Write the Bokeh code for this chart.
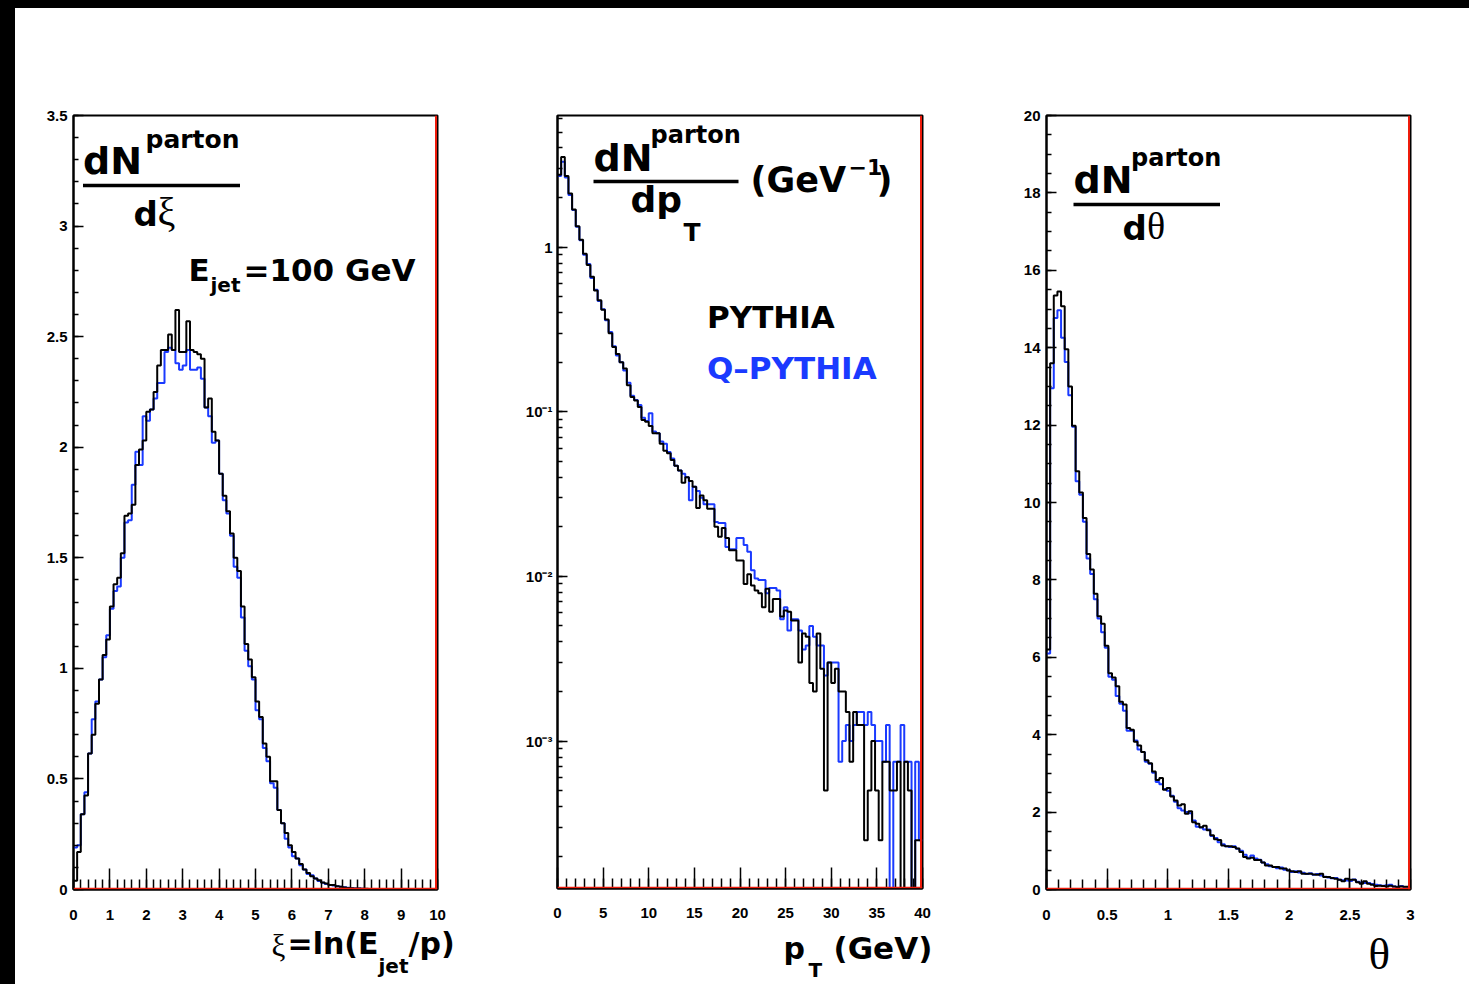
import math
from bokeh.plotting import figure
from bokeh.models import (Range1d, FixedTicker, CustomJSTickFormatter, Label,
                          BoxAnnotation, Span, Spacer)
from bokeh.layouts import row, column
from bokeh.embed import file_html
from bokeh.resources import INLINE

# ---------------------------------------------------------------- data
N_BINS = 100

# xi = ln(E_jet/p), 0..10, 100 bins
XI_RANGE = (0.0, 10.0)
XI_PYTHIA = [
    0.04, 0.17, 0.34, 0.425, 0.615, 0.70, 0.84, 0.95, 1.06, 1.13,
    1.28, 1.38, 1.41, 1.52, 1.69, 1.70, 1.74, 1.92, 1.99, 2.03,
    2.16, 2.17, 2.25, 2.37, 2.44, 2.44, 2.51, 2.44, 2.62, 2.43,
    2.43, 2.57, 2.44, 2.43, 2.42, 2.40, 2.18, 2.22, 2.07, 2.03,
    1.88, 1.78, 1.71, 1.61, 1.50, 1.44, 1.28, 1.11, 1.04, 0.96,
    0.85, 0.78, 0.66, 0.60, 0.49, 0.49, 0.36, 0.30, 0.255, 0.20,
    0.17, 0.14, 0.115, 0.09, 0.075, 0.06, 0.05, 0.042, 0.032, 0.027,
    0.02, 0.02, 0.015, 0.012, 0.009, 0.007, 0.006, 0.005, 0.004, 0.003,
    0.003, 0.002, 0.002, 0.001, 0.001, 0.001, 0.0005, 0.0005, 0.0005, 0.0,
    0.0, 0.0, 0.0, 0.0, 0.0, 0.0, 0.0, 0.0, 0.0, 0.0,
]
XI_QPYTHIA = [
    0.19, 0.20, 0.34, 0.44, 0.615, 0.77, 0.85, 0.95, 1.05, 1.15,
    1.27, 1.35, 1.37, 1.50, 1.66, 1.67, 1.83, 1.98, 1.92, 2.14,
    2.12, 2.17, 2.22, 2.29, 2.29, 2.43, 2.45, 2.44, 2.38, 2.35,
    2.37, 2.44, 2.35, 2.35, 2.36, 2.31, 2.18, 2.14, 2.02, 2.03,
    1.88, 1.76, 1.70, 1.60, 1.46, 1.41, 1.23, 1.08, 1.01, 0.95,
    0.81, 0.77, 0.64, 0.58, 0.48, 0.46, 0.36, 0.30, 0.23, 0.19,
    0.15, 0.14, 0.11, 0.09, 0.07, 0.065, 0.05, 0.038, 0.03, 0.025,
    0.02, 0.018, 0.015, 0.013, 0.01, 0.008, 0.006, 0.005, 0.004, 0.003,
    0.002, 0.002, 0.001, 0.001, 0.001, 0.0005, 0.0005, 0.0005, 0.0, 0.0,
    0.0, 0.0, 0.0, 0.0, 0.0, 0.0, 0.0, 0.0, 0.0, 0.0,
]

# pT (GeV), 0..40, 100 bins, log scale
PT_RANGE = (0.0, 40.0)
PT_YRANGE = (1.272e-4, 6.30)
PT_PYTHIA = [
    2.75, 3.52, 2.70, 2.12, 1.69, 1.34, 1.11, 0.91, 0.78, 0.66,
    0.546, 0.475, 0.417, 0.363, 0.30, 0.247, 0.224, 0.20, 0.183, 0.145,
    0.123, 0.117, 0.107, 0.089, 0.087, 0.082, 0.074, 0.074, 0.064, 0.058,
    0.056, 0.051, 0.047, 0.044, 0.037, 0.040, 0.038, 0.035, 0.026, 0.031,
    0.029, 0.0258, 0.0258, 0.020, 0.0174, 0.0197, 0.0171, 0.0144, 0.0144, 0.0125,
    0.0125, 0.0090, 0.0103, 0.0088, 0.0082, 0.0079, 0.0065, 0.0084, 0.0061, 0.0073,
    0.0073, 0.0057, 0.0062, 0.0061, 0.0054, 0.0054, 0.0030, 0.0045, 0.0043, 0.00225,
    0.0020, 0.0045, 0.00275, 0.0005, 0.0030, 0.00225, 0.00275, 0.0020, 0.0020, 0.0015,
    0.00075, 0.0015, 0.00125, 0.00125, 0.00025, 0.0005, 0.001, 0.0005, 0.00025, 0.00075,
    0.00075, 0.0005, 0.0005, 0.00075, 0.0, 0.00075, 0.0005, 0.0, 0.00025, 0.00025,
]
PT_QPYTHIA = [
    2.70, 3.30, 2.65, 2.07, 1.68, 1.33, 1.10, 0.90, 0.79, 0.65,
    0.55, 0.47, 0.42, 0.36, 0.305, 0.25, 0.22, 0.20, 0.178, 0.15,
    0.125, 0.118, 0.110, 0.092, 0.088, 0.098, 0.076, 0.074, 0.066, 0.064,
    0.057, 0.052, 0.047, 0.044, 0.042, 0.040, 0.029, 0.035, 0.033, 0.030,
    0.0274, 0.0274, 0.0274, 0.0214, 0.0211, 0.0211, 0.0151, 0.0146, 0.0146, 0.0171,
    0.0171, 0.0155, 0.0141, 0.0109, 0.0097, 0.0095, 0.0095, 0.0079, 0.0085, 0.0085,
    0.0082, 0.0055, 0.0065, 0.0047, 0.0055, 0.0055, 0.0047, 0.0036, 0.0038, 0.0050,
    0.0043, 0.0038, 0.0038, 0.0025, 0.0030, 0.0030, 0.0030, 0.00075, 0.001, 0.00125,
    0.001, 0.00125, 0.0015, 0.0015, 0.00125, 0.0015, 0.00125, 0.001, 0.001, 0.00075,
    0.00125, 0.0, 0.00075, 0.00075, 0.00125, 0.00075, 0.00075, 0.0, 0.00075, 0.00025,
]

# theta, 0..3, 100 bins
TH_RANGE = (0.0, 3.0)
TH_PYTHIA = [
    6.2, 13.6, 15.35, 15.45, 15.07, 13.96, 13.0, 11.98, 10.81, 10.26,
    9.6, 8.67, 8.27, 7.64, 7.06, 6.87, 6.30, 5.59, 5.48, 5.25,
    4.85, 4.78, 4.17, 4.13, 3.82, 3.72, 3.55, 3.34, 3.26, 3.05,
    2.83, 2.88, 2.58, 2.62, 2.40, 2.30, 2.17, 2.20, 1.96, 2.02,
    1.74, 1.70, 1.61, 1.65, 1.53, 1.40, 1.30, 1.28, 1.14, 1.12,
    1.12, 1.10, 1.06, 0.97, 0.84, 0.80, 0.82, 0.76, 0.76, 0.70,
    0.62, 0.62, 0.58, 0.58, 0.54, 0.54, 0.49, 0.47, 0.45, 0.47,
    0.41, 0.41, 0.41, 0.39, 0.38, 0.41, 0.32, 0.32, 0.30, 0.28,
    0.25, 0.21, 0.28, 0.25, 0.25, 0.19, 0.15, 0.21, 0.15, 0.12,
    0.09, 0.10, 0.09, 0.08, 0.10, 0.08, 0.06, 0.08, 0.07, 0.07,
]
TH_QPYTHIA = [
    6.1, 12.95, 14.77, 14.97, 14.26, 13.63, 12.77, 11.96, 10.55, 10.2,
    9.5, 8.55, 8.15, 7.5, 7.0, 6.65, 6.25, 5.5, 5.42, 5.0,
    4.80, 4.62, 4.10, 4.10, 3.85, 3.62, 3.55, 3.30, 3.25, 3.02,
    2.78, 2.72, 2.60, 2.55, 2.42, 2.27, 2.10, 2.04, 2.00, 1.97,
    1.78, 1.62, 1.60, 1.55, 1.55, 1.38, 1.33, 1.22, 1.17, 1.12,
    1.10, 1.12, 1.05, 1.00, 0.90, 0.82, 0.88, 0.80, 0.77, 0.70,
    0.65, 0.60, 0.58, 0.55, 0.57, 0.51, 0.50, 0.45, 0.47, 0.44,
    0.43, 0.40, 0.42, 0.38, 0.40, 0.36, 0.33, 0.31, 0.29, 0.30,
    0.25, 0.24, 0.23, 0.22, 0.26, 0.20, 0.18, 0.17, 0.17, 0.14,
    0.12, 0.11, 0.10, 0.11, 0.12, 0.08, 0.07, 0.09, 0.06, 0.05,
]

# axis ticks
XI_XTICKS = [0, 1, 2, 3, 4, 5, 6, 7, 8, 9, 10]
XI_YTICKS = [0, 0.5, 1, 1.5, 2, 2.5, 3, 3.5]
PT_XTICKS = [0, 5, 10, 15, 20, 25, 30, 35, 40]
PT_YTICKS = [1e-3, 1e-2, 1e-1, 1]
TH_XTICKS = [0, 0.5, 1, 1.5, 2, 2.5, 3]
TH_YTICKS = [0, 2, 4, 6, 8, 10, 12, 14, 16, 18, 20]

BLACK = "#000000"
BLUE = "#1a3aff"
RED = "#ee1c0c"
BOLD_FONT = "DejaVu Sans"
TICK_FONT = "Liberation Sans"
SERIF = "Liberation Serif"

# ---------------------------------------------------------------- helpers
TOP_BAND = 8
LEFT_BAND = 15
WIN_W, WIN_H = 1469, 984
MAIN_H = 918          # height of each histogram figure
BASE_K = 0.44         # baseline correction for Label placement


def edges(rng):
    w = (rng[1] - rng[0]) / N_BINS
    return [rng[0] + i * w for i in range(N_BINS + 1)]


def minor(lo, hi, step):
    n = int(round((hi - lo) / step))
    return [round(lo + i * step, 6) for i in range(n + 1)]


lin_fmt = CustomJSTickFormatter(code="return String(Math.round(tick*1000)/1000);")
log_fmt = CustomJSTickFormatter(code="""
const e = Math.round(Math.log10(tick));
if (e === 0) { return "1"; }
const sup = {"-": "\\u207B", "0": "\\u2070", "1": "\\u00B9", "2": "\\u00B2",
             "3": "\\u00B3", "4": "\\u2074", "5": "\\u2075"};
return "10" + String(e).split("").map(c => sup[c]).join("");
""")


def make_fig(xr, yr, log, fw, fh, bl, br, bt, bb, xt, xminor, yt, yminor, yfmt):
    p = figure(frame_width=fw, frame_height=fh,
               x_range=Range1d(*xr), y_range=Range1d(*yr),
               y_axis_type="log" if log else "linear",
               min_border_left=bl, min_border_right=br,
               min_border_top=bt, min_border_bottom=bb,
               output_backend="svg", toolbar_location=None)
    p.xgrid.visible = False
    p.ygrid.visible = False
    p.background_fill_color = "white"
    p.border_fill_color = "white"
    p.outline_line_color = "black"
    p.outline_line_width = 2
    p.outline_line_alpha = 1.0

    p.xaxis.ticker = FixedTicker(ticks=xt, minor_ticks=xminor)
    p.yaxis.ticker = FixedTicker(ticks=yt, minor_ticks=yminor)
    p.xaxis.formatter = lin_fmt
    p.yaxis.formatter = yfmt
    for ax in (p.xaxis, p.yaxis):
        ax.axis_line_width = 2
        ax.axis_line_color = "black"
        ax.major_tick_line_width = 1.5
        ax.minor_tick_line_width = 1.5
        ax.major_tick_line_color = "black"
        ax.minor_tick_line_color = "black"
        ax.major_tick_out = 0
        ax.minor_tick_out = 0
        ax.major_label_text_font = TICK_FONT
        ax.major_label_text_font_style = "bold"
        ax.major_label_text_font_size = "15px"
        ax.major_label_text_color = "black"
    p.xaxis.major_tick_in = 21
    p.xaxis.minor_tick_in = 10
    p.xaxis.major_label_standoff = 20
    p.yaxis.major_tick_in = 10
    p.yaxis.minor_tick_in = 5
    p.yaxis.major_label_standoff = 6
    return p


def draw_hist(p, rng, vals, color, log):
    xs = edges(rng)
    ys = list(vals) + [vals[-1]]
    if log:
        ys = [v if v > 0 else 1e-7 for v in ys]
    p.step(x=xs, y=ys, mode="after", line_color=color, line_width=2)


class Frame:
    """Maps page pixel positions to the data space of a frame."""
    def __init__(self, L, T, W, H, xr, yr, log):
        self.L, self.T, self.W, self.H = L, T, W, H
        self.xr, self.yr, self.log = xr, yr, log

    def x(self, px):
        return self.xr[0] + (px - self.L) / self.W * (self.xr[1] - self.xr[0])

    def y(self, py):
        f = (self.T + self.H - py) / self.H
        if self.log:
            a, b = math.log10(self.yr[0]), math.log10(self.yr[1])
            return 10 ** (a + f * (b - a))
        return self.yr[0] + f * (self.yr[1] - self.yr[0])


def text(p, fr, px, py, s, size, font=BOLD_FONT, style="bold", color="black"):
    py = py - BASE_K * size
    p.add_layout(Label(x=fr.x(px), y=fr.y(py), text=s, text_font=font,
                       text_font_style=style, text_font_size=f"{size}px",
                       text_color=color, text_baseline="alphabetic",
                       text_align="left"))


def bar(p, fr, x0, x1, yc, th=3.5):
    p.add_layout(BoxAnnotation(left=fr.x(x0), right=fr.x(x1),
                               top=fr.y(yc - th / 2), bottom=fr.y(yc + th / 2),
                               fill_color="black", fill_alpha=1.0,
                               line_alpha=0.0, level="overlay"))


def red_edges(p, fr):
    p.add_layout(Span(location=fr.x(fr.L + fr.W - 1.5), dimension="height",
                      line_color=RED, line_width=2))
    p.add_layout(Span(location=fr.y(fr.T + fr.H - 1.0), dimension="width",
                      line_color=RED, line_width=1.5))


# ---------------------------------------------------------------- panel 1 (xi)
f1 = Frame(LEFT_BAND + 58, TOP_BAND + 105, 364, 774, XI_RANGE, (0, 3.5), False)
p1 = make_fig(XI_RANGE, (0, 3.5), False, 364, 774, 58, 60, 105, 39,
              XI_XTICKS, minor(0, 10, 0.2), XI_YTICKS, minor(0, 3.5, 0.1), lin_fmt)
draw_hist(p1, XI_RANGE, XI_QPYTHIA, BLUE, False)
draw_hist(p1, XI_RANGE, XI_PYTHIA, BLACK, False)
red_edges(p1, f1)
text(p1, f1, 82.5, 175, "dN", 38)
text(p1, f1, 145, 147.5, "parton", 25)
bar(p1, f1, 82.5, 239.5, 183)
text(p1, f1, 133, 226.5, "d", 34)
text(p1, f1, 157, 226.5, "ξ", 40, font=SERIF, style="normal")
text(p1, f1, 188, 281.5, "E", 31)
text(p1, f1, 210, 291.5, "jet", 20)
text(p1, f1, 243, 281.5, "=100 GeV", 31)

# ---------------------------------------------------------------- panel 2 (pT)
x2 = LEFT_BAND + 482
f2 = Frame(x2 + 60, TOP_BAND + 107, 365, 773, PT_RANGE, PT_YRANGE, True)
pt_minor_y = [k * 10.0 ** e for e in range(-4, 1) for k in range(1, 10)]
p2 = make_fig(PT_RANGE, PT_YRANGE, True, 365, 773, 60, 61, 107, 38,
              PT_XTICKS, minor(0, 40, 1), PT_YTICKS, pt_minor_y, log_fmt)
p2.yaxis.major_label_standoff = 5
p2.xaxis.major_label_standoff = 19
draw_hist(p2, PT_RANGE, PT_QPYTHIA, BLUE, True)
draw_hist(p2, PT_RANGE, PT_PYTHIA, BLACK, True)
red_edges(p2, f2)
text(p2, f2, 593, 174, "dN", 38)
text(p2, f2, 650, 145, "parton", 24)
bar(p2, f2, 593, 738, 181)
text(p2, f2, 630, 215, "dp", 36)
text(p2, f2, 683, 243, "T", 25)
text(p2, f2, 750, 195, "(GeV", 35)
text(p2, f2, 848, 176, "−1", 22)
text(p2, f2, 876, 195, ")", 35)
text(p2, f2, 706.5, 330, "PYTHIA", 31)
text(p2, f2, 706.5, 381.5, "Q–PYTHIA", 31, color=BLUE)

# ---------------------------------------------------------------- panel 3 (theta)
x3 = x2 + 486
f3 = Frame(x3 + 63, TOP_BAND + 105, 364, 774, TH_RANGE, (0, 20), False)
p3 = make_fig(TH_RANGE, (0, 20), False, 364, 774, 63, 59, 105, 39,
              TH_XTICKS, minor(0, 3, 0.1), TH_YTICKS, minor(0, 20, 0.5), lin_fmt)
draw_hist(p3, TH_RANGE, TH_QPYTHIA, BLUE, False)
draw_hist(p3, TH_RANGE, TH_PYTHIA, BLACK, False)
red_edges(p3, f3)
text(p3, f3, 1073, 194, "dN", 38)
text(p3, f3, 1130.5, 166.5, "parton", 24)
bar(p3, f3, 1073, 1219.5, 202)
text(p3, f3, 1122, 240, "d", 34)
text(p3, f3, 1146.5, 240, "θ", 38, font=SERIF, style="normal")

# ---------------------------------------------------------------- axis titles (strip below)
strip_top = TOP_BAND + MAIN_H
strip_h = WIN_H - strip_top
ft = Frame(LEFT_BAND, strip_top, WIN_W - LEFT_BAND, strip_h,
           (LEFT_BAND, WIN_W), (WIN_H, strip_top), False)
pt = figure(width=WIN_W - LEFT_BAND, height=strip_h,
            x_range=Range1d(LEFT_BAND, WIN_W), y_range=Range1d(WIN_H, strip_top),
            min_border=0, output_backend="svg", toolbar_location=None)
pt.axis.visible = False
pt.grid.visible = False
pt.outline_line_color = None
pt.background_fill_color = "white"
pt.border_fill_color = "white"
text(pt, ft, 271, 959, "ξ", 31, font=SERIF, style="normal")
text(pt, ft, 287, 956, "=ln(E", 30)
text(pt, ft, 378, 974, "jet", 20)
text(pt, ft, 408, 956, "/p)", 30)
text(pt, ft, 783, 961, "p", 30)
text(pt, ft, 808, 978, "T", 20)
text(pt, ft, 833, 961, "(GeV)", 31)
text(pt, ft, 1368, 973, "θ", 45, font=SERIF, style="normal")

# ---------------------------------------------------------------- layout
top_band = Spacer(width=WIN_W, height=TOP_BAND, styles={"background-color": "black"})
left_band = Spacer(width=LEFT_BAND, height=WIN_H - TOP_BAND,
                   styles={"background-color": "black"})
layout = column(top_band, row(left_band, column(row(p1, p2, p3), pt)))

open("out.html", "w").write(file_html(layout, INLINE, title="parton distributions"))
